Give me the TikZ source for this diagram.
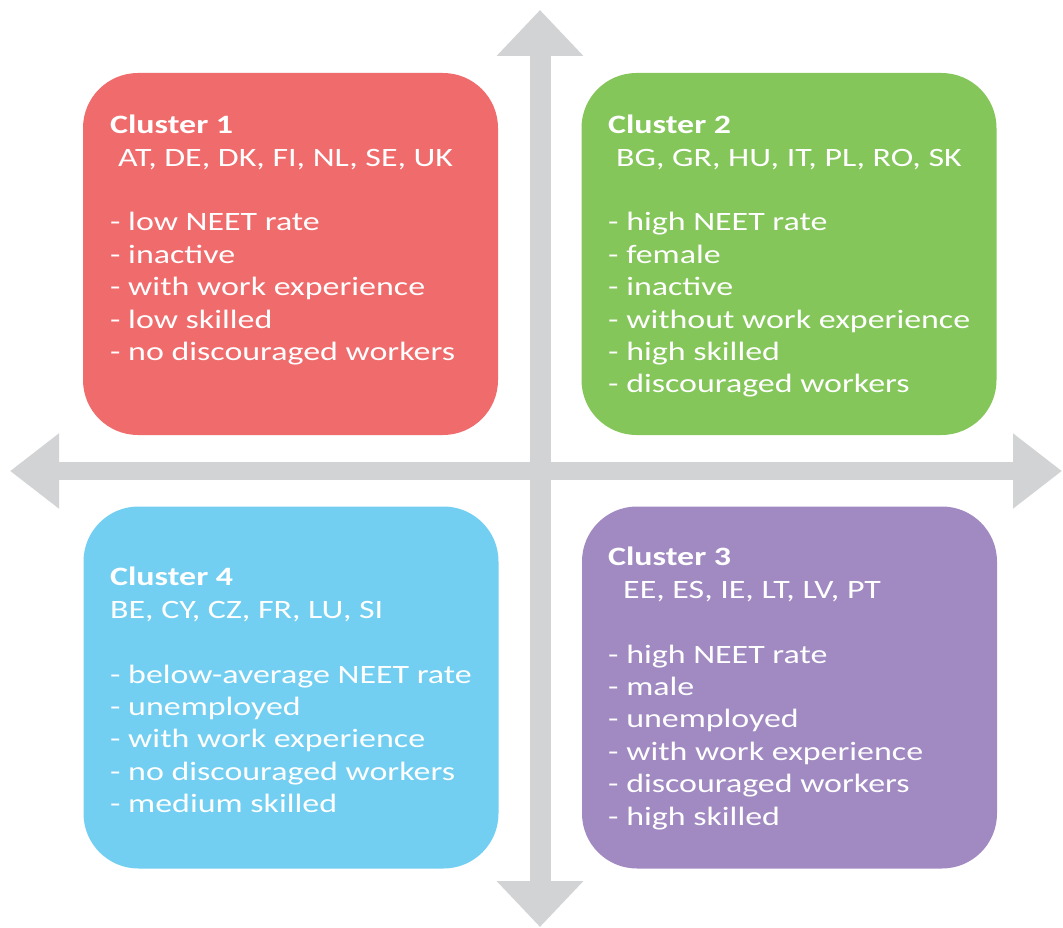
\documentclass[tikz,border=0pt]{standalone}
\usepackage{fontspec}
\setmainfont{Carlito}[FakeStretch=1.28]
\usetikzlibrary{positioning,arrows.meta}
\definecolor{clred}{HTML}{F06B6C}
\definecolor{clgreen}{HTML}{84C65A}
\definecolor{clblue}{HTML}{72CFF1}
\definecolor{clpurple}{HTML}{A18AC1}
\definecolor{axisgray}{HTML}{D1D3D5}

\begin{document}
\begin{tikzpicture}[x=1pt,y=-1pt,
  cluster/.style={rectangle, rounded corners=55pt, minimum width=415pt,
         minimum height=362pt, inner sep=0pt},
  clustertext/.style={anchor=north west, align=left, text=white, inner sep=0pt,
         font=\fontsize{26.5}{32.4}\selectfont},
  haxis/.style={draw=axisgray, line width=18pt,
         arrows={Triangle[width=72pt,length=49pt]-Triangle[width=72pt,length=49pt]}},
  vaxis/.style={draw=axisgray, line width=21pt,
         arrows={Triangle[width=84pt,length=46pt]-Triangle[width=84pt,length=46pt]}}]
 \useasboundingbox (0,0) rectangle (1063,928);
 % axes
 \coordinate (West) at (10,471);
 \coordinate (East) at (1062,471);
 \coordinate (North) at (540,10);
 \coordinate (South) at (540,927);
 \draw [haxis] (West) -- (East);
 \draw [vaxis] (North) -- (South);
 % clusters
 \node [cluster, fill=clred]    (Cluster1) at (290.5,254) {};
 \node [cluster, fill=clgreen]  (Cluster2) at (789,254) {};
 \node [cluster, fill=clpurple] (Cluster3) at (789.5,687.5) {};
 \node [cluster, fill=clblue]   (Cluster4) at (291,687.5) {};
 \node [clustertext] (Cluster1Text) at (110,115)
   {\textbf{Cluster 1}\\ \hspace{8pt}AT, DE, DK, FI, NL, SE, UK\\[32.4pt]
    - low NEET rate\\ - inactive\\ - with work experience\\ - low skilled\\
    - no discouraged workers};
 \node [clustertext] (Cluster2Text) at (608,115)
   {\textbf{Cluster 2}\\ \hspace{8pt}BG, GR, HU, IT, PL, RO, SK\\[32.4pt]
    - high NEET rate\\ - female\\ - inactive\\ - without work experience\\
    - high skilled\\ - discouraged workers};
 \node [clustertext] (Cluster3Text) at (608,547)
   {\textbf{Cluster 3}\\ \hspace{15pt}EE, ES, IE, LT, LV, PT\\[32.4pt]
    - high NEET rate\\ - male\\ - unemployed\\ - with work experience\\
    - discouraged workers\\ - high skilled};
 \node [clustertext] (Cluster4Text) at (110,567)
   {\textbf{Cluster 4}\\ BE, CY, CZ, FR, LU, SI\\[32.4pt]
    - below-average NEET rate\\ - unemployed\\ - with work experience\\
    - no discouraged workers\\ - medium skilled};
\end{tikzpicture}
\end{document}
